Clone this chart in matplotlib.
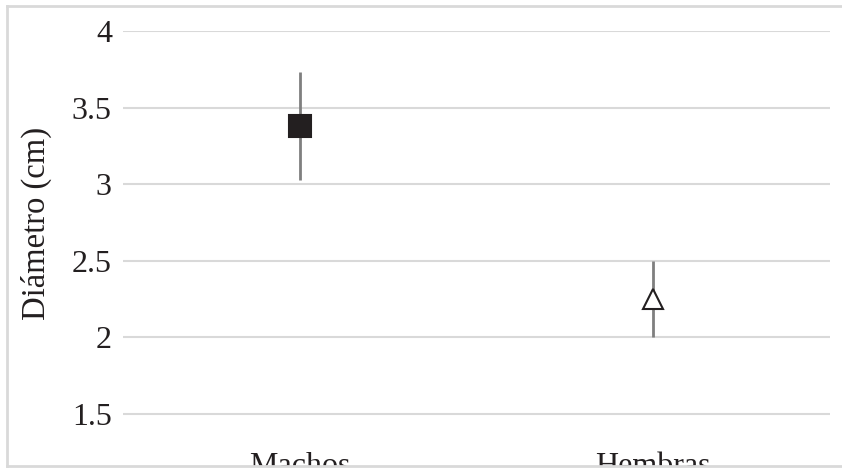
import matplotlib
matplotlib.use("Agg")
import matplotlib.pyplot as plt
from matplotlib.patches import Rectangle
from matplotlib.lines import Line2D

# data
categories = ["Machos", "Hembras"]
means = [3.38, 2.25]
errors = [0.35, 0.25]
markers = ["s", "^"]
face_colors = ["#231f20", "white"]
marker_sizes = [16.5, 14]
yticks = [1.5, 2, 2.5, 3, 3.5, 4]

plt.rcParams["font.family"] = ["Liberation Serif", "DejaVu Serif"]

fig = plt.figure(figsize=(8.42, 4.69), dpi=100)
ax = fig.add_axes([123 / 842, 1 - 444.6 / 469, 707 / 842, (444.6 - 31) / 469])

x = list(range(len(categories)))
for i in x:
    ax.errorbar(i, means[i], yerr=errors[i], fmt="none", ecolor="#7f7f7f",
                elinewidth=2, capsize=0, zorder=2)
    ax.plot(i, means[i], marker=markers[i], markersize=marker_sizes[i],
            markerfacecolor=face_colors[i], markeredgecolor="#231f20",
            markeredgewidth=1.5, linestyle="none", zorder=3)

ax.set_xlim(-0.5, 1.5)
ax.set_ylim(1.3, 4.0)
ax.set_yticks(yticks)
ax.set_yticklabels([("%g" % v) for v in yticks])
ax.set_xticks(x)
ax.set_xticklabels(categories)
ax.tick_params(axis="both", length=0, labelsize=23, colors="#231f20")
ax.tick_params(axis="y", pad=8)
ax.tick_params(axis="x", pad=5)
ax.grid(axis="y", color="#d9d9d9", linewidth=1.5)
ax.set_axisbelow(True)
for s in ax.spines.values():
    s.set_visible(False)

ax.set_ylabel("Diámetro (cm)", fontsize=23.5, color="#231f20")
ax.yaxis.set_label_coords(-0.101, 0.535)

# white mask below the frame, so the category labels get cut like the original
fig.add_artist(Rectangle((0, 0), 1, 3 / 469, transform=fig.transFigure,
                         facecolor="white", edgecolor="none", zorder=10))
# light outer frame
fr = dict(color="#d9d9d9", linewidth=2, transform=fig.transFigure, zorder=11)
fig.add_artist(Line2D([7 / 842, 7 / 842], [3 / 469, 1 - 6 / 469], **fr))
fig.add_artist(Line2D([7 / 842, 1], [1 - 6 / 469, 1 - 6 / 469], **fr))
fig.add_artist(Line2D([7 / 842, 1], [3 / 469, 3 / 469], **fr))

fig.savefig("out.png", dpi=100)
